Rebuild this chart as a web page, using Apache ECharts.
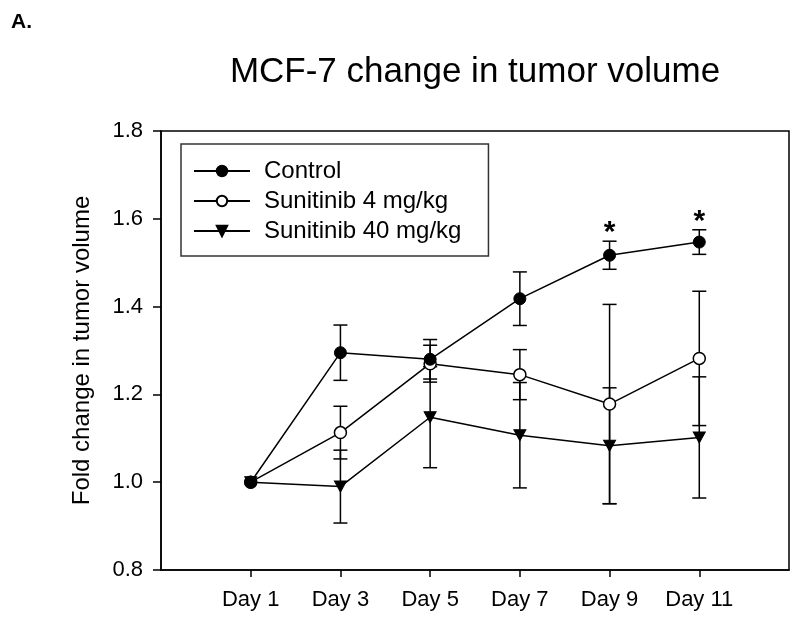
<!DOCTYPE html>
<html>
<head>
<meta charset="utf-8">
<script src="https://cdn.jsdelivr.net/npm/echarts@6/dist/echarts.min.js"></script>
<style>
html,body{margin:0;padding:0;background:#fff;}
#chart{width:800px;height:624px;}
</style>
</head>
<body>
<div id="chart"></div>
<script>
const days = ['Day 1', 'Day 3', 'Day 5', 'Day 7', 'Day 9', 'Day 11'];
const seriesNames = ['Control', 'Sunitinib 4 mg/kg', 'Sunitinib 40 mg/kg'];
const controlMean = [1.000, 1.295, 1.280, 1.418, 1.517, 1.547];
const controlErr  = [0, 0.063, 0.045, 0.061, 0.032, 0.028];
const suni4Mean   = [1.000, 1.113, 1.270, 1.245, 1.178, 1.282];
const suni4Err    = [0, 0.060, 0.042, 0.057, 0.227, 0.153];
const suni40Mean  = [1.000, 0.990, 1.148, 1.107, 1.083, 1.102];
const suni40Err   = [0, 0.083, 0.115, 0.120, 0.132, 0.138];
const controlSignif = ['', '', '', '', '*', '*'];
const yMin = 0.8, yMax = 1.8, yStep = 0.2;

const FONT = 'Liberation Sans, Arial, Helvetica, sans-serif';
const xCats = [''].concat(days, ['']);

function pts(mean) { return mean.map((v, i) => [i + 1, v]); }
function errPts(mean, err) { return mean.map((v, i) => [i + 1, v, err[i]]); }

function errRender(params, api) {
  const x = api.value(0), m = api.value(1), e = api.value(2);
  if (!e) return;
  const t = api.coord([x, m + e]);
  const b = api.coord([x, m - e]);
  const hw = 7;
  const st = { stroke: '#000', lineWidth: 1.5 };
  return {
    type: 'group',
    children: [
      { type: 'line', shape: { x1: t[0], y1: t[1], x2: b[0], y2: b[1] }, style: st },
      { type: 'line', shape: { x1: t[0] - hw, y1: t[1], x2: t[0] + hw, y2: t[1] }, style: st },
      { type: 'line', shape: { x1: b[0] - hw, y1: b[1], x2: b[0] + hw, y2: b[1] }, style: st }
    ]
  };
}

function sigRender(params, api) {
  const s = controlSignif[params.dataIndex];
  if (!s) return;
  const x = api.value(0), top = api.value(1);
  const p = api.coord([x, top]);
  return {
    type: 'text',
    x: p[0], y: p[1] - 8,
    style: { text: s, font: 'bold 30px ' + FONT, fill: '#000', align: 'center', verticalAlign: 'middle' }
  };
}

const lineCommon = {
  type: 'line',
  symbolSize: 12,
  lineStyle: { color: '#000', width: 1.5 },
  z: 5
};

const chart = echarts.init(document.getElementById('chart'), null, { renderer: 'canvas' });
chart.setOption({
  animation: false,
  backgroundColor: '#fff',
  textStyle: { fontFamily: FONT },
  graphic: [
    { type: 'text', left: 11, top: 12, style: { text: 'A.', font: 'bold 21px ' + FONT, fill: '#000' } },
    { type: 'text', x: 475, y: 72, style: { text: 'MCF-7 change in tumor volume', font: '35px ' + FONT, fill: '#000', align: 'center', verticalAlign: 'middle' } }
  ],
  grid: { left: 161, right: 11, top: 131, bottom: 54, show: true, borderColor: '#000', borderWidth: 1.5, backgroundColor: 'transparent' },
  legend: {
    data: seriesNames,
    orient: 'vertical',
    left: 181, top: 144,
    padding: [15, 27, 13, 12],
    itemWidth: 56, itemHeight: 13, itemGap: 6,
    borderColor: '#333', borderWidth: 1.5,
    textStyle: { fontSize: 24, color: '#000', fontFamily: FONT, padding: [0, 0, 0, 9] },
    selectedMode: false
  },
  xAxis: {
    type: 'category',
    data: xCats,
    boundaryGap: false,
    axisLine: { lineStyle: { color: '#000', width: 1.5 } },
    axisTick: { length: 7, lineStyle: { color: '#000', width: 1.5 }, interval: (i, v) => v !== '' },
    axisLabel: { fontSize: 22, color: '#000', fontFamily: FONT, margin: 19, interval: 0 },
    splitLine: { show: false }
  },
  yAxis: {
    type: 'value',
    min: yMin, max: yMax, interval: yStep,
    name: 'Fold change in tumor volume',
    nameLocation: 'middle', nameRotate: 90, nameGap: 67,
    nameTextStyle: { fontSize: 24, color: '#000', fontFamily: FONT },
    axisLine: { show: true, lineStyle: { color: '#000', width: 1.5 } },
    axisTick: { show: true, length: 8, lineStyle: { color: '#000', width: 1.5 } },
    axisLabel: { fontSize: 22, color: '#000', fontFamily: FONT, margin: 18, formatter: v => v.toFixed(1) },
    splitLine: { show: false }
  },
  series: [
    { type: 'custom', name: 'errC', data: errPts(controlMean, controlErr), renderItem: errRender, encode: { x: 0, y: 1 }, z: 3, silent: true },
    { type: 'custom', name: 'err4', data: errPts(suni4Mean, suni4Err), renderItem: errRender, encode: { x: 0, y: 1 }, z: 3, silent: true },
    { type: 'custom', name: 'err40', data: errPts(suni40Mean, suni40Err), renderItem: errRender, encode: { x: 0, y: 1 }, z: 3, silent: true },
    { type: 'custom', name: 'sig', data: controlMean.map((v, i) => [i + 1, v + controlErr[i]]), renderItem: sigRender, encode: { x: 0, y: 1 }, z: 6, silent: true },
    Object.assign({}, lineCommon, {
      name: seriesNames[2], data: pts(suni40Mean),
      symbol: 'triangle', symbolRotate: 180, symbolSize: [12, 11],
      itemStyle: { color: '#000', borderColor: '#000', borderWidth: 1 }
    }),
    Object.assign({}, lineCommon, {
      name: seriesNames[1], data: pts(suni4Mean),
      symbol: 'circle',
      itemStyle: { color: '#fff', borderColor: '#000', borderWidth: 1.5 }
    }),
    Object.assign({}, lineCommon, {
      name: seriesNames[0], data: pts(controlMean),
      symbol: 'circle',
      itemStyle: { color: '#000', borderColor: '#000', borderWidth: 1 }
    })
  ]
});
</script>
</body>
</html>
